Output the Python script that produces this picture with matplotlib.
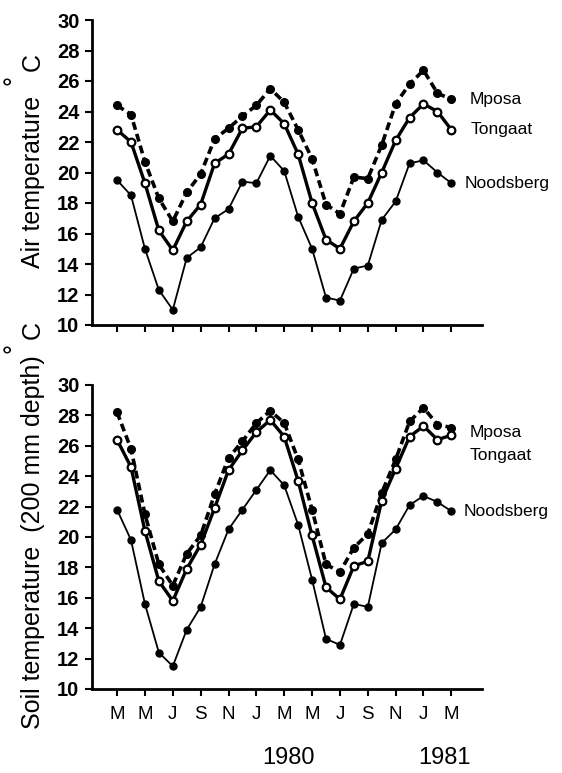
import numpy as np
import matplotlib.pyplot as plt

plt.rcParams['font.family'] = ['Liberation Sans', 'DejaVu Sans']

# monthly values, March 1979 .. March 1981
months = np.arange(25)
tick_pos = np.arange(0, 25, 2)
tick_labels = ['M', 'M', 'J', 'S', 'N', 'J', 'M', 'M', 'J', 'S', 'N', 'J', 'M']

air_mposa = [24.4, 23.8, 20.7, 18.3, 16.8, 18.7, 19.9, 22.2, 22.9, 23.7, 24.4, 25.5,
             24.6, 22.8, 20.9, 17.9, 17.3, 19.7, 19.6, 21.8, 24.5, 25.8, 26.7, 25.2, 24.8]
air_tongaat = [22.8, 22.0, 19.3, 16.2, 14.9, 16.8, 17.9, 20.6, 21.2, 22.9, 23.0, 24.1,
               23.2, 21.2, 18.0, 15.6, 15.0, 16.8, 18.0, 20.0, 22.1, 23.6, 24.5, 24.0, 22.8]
air_noodsberg = [19.5, 18.5, 15.0, 12.3, 11.0, 14.4, 15.1, 17.0, 17.6, 19.4, 19.3, 21.1,
                 20.1, 17.1, 15.0, 11.8, 11.6, 13.7, 13.9, 16.9, 18.1, 20.6, 20.8, 20.0, 19.3]

soil_mposa = [28.2, 25.8, 21.5, 18.2, 16.8, 18.9, 20.1, 22.8, 25.2, 26.3, 27.5, 28.3,
              27.5, 25.1, 21.8, 18.2, 17.7, 19.3, 20.2, 22.9, 25.1, 27.6, 28.5, 27.4, 27.2]
soil_tongaat = [26.4, 24.6, 20.4, 17.1, 15.8, 17.9, 19.5, 21.9, 24.4, 25.7, 26.9, 27.7,
                26.6, 23.7, 20.1, 16.7, 15.9, 18.1, 18.4, 22.4, 24.5, 26.6, 27.3, 26.4, 26.7]
soil_noodsberg = [21.8, 19.8, 15.6, 12.4, 11.5, 13.9, 15.4, 18.2, 20.5, 21.8, 23.1, 24.4,
                  23.4, 20.8, 17.2, 13.3, 12.9, 15.6, 15.4, 19.6, 20.5, 22.1, 22.7, 22.3, 21.7]

W, H = 562, 773
fig = plt.figure(figsize=(W / 100, H / 100), dpi=100)


def px(x, y):
    return x / W, 1 - y / H


def make_axes(top, bottom):
    l, b = px(92, bottom)
    ax = fig.add_axes([l, b, (482 - 92) / W, (bottom - top) / H])
    for side in ['top', 'right']:
        ax.spines[side].set_visible(False)
    for side in ['left', 'bottom']:
        ax.spines[side].set_linewidth(2)
    ax.set_xlim(-1.8, 26.2)
    ax.set_ylim(10, 30)
    ax.set_yticks(np.arange(10, 31, 2))
    ax.set_xticks(tick_pos)
    ax.tick_params(axis='y', length=5, width=1.5, pad=4, labelsize=14.5)
    ax.tick_params(axis='x', length=5, width=1.5, pad=7, labelsize=13.5)
    for lab in ax.get_yticklabels():
        lab.set_fontweight('bold')
    return ax


def draw(ax, mposa, tongaat, noodsberg, offsets):
    ax.plot(months, mposa, color='black', lw=2.6, ls=(0, (2.2, 1.2)), marker='o',
            ms=5.5, mfc='black', mec='black', clip_on=False)
    ax.plot(months, tongaat, color='black', lw=2.4, marker='o', ms=5.5,
            mfc='white', mec='black', mew=1.6, clip_on=False, zorder=3)
    ax.plot(months, noodsberg, color='black', lw=1.3, marker='o', ms=5,
            mfc='black', mec='black', clip_on=False)
    names = ['Mposa', 'Tongaat', 'Noodsberg']
    for name, series, (dx, dy) in zip(names, [mposa, tongaat, noodsberg], offsets):
        ax.annotate(name, (months[-1], series[-1]), xytext=(dx, dy),
                    textcoords='offset pixels', ha='left', va='center', fontsize=12.5)


ax1 = make_axes(20, 325)
draw(ax1, air_mposa, air_tongaat, air_noodsberg, [(18, 0), (19, 0), (13, 0)])
ax1.set_xticklabels([])

ax2 = make_axes(385, 689)
draw(ax2, soil_mposa, soil_tongaat, soil_noodsberg, [(18, -5), (18, -20), (12, 0)])
ax2.set_xticklabels(tick_labels)

# year labels
ax2.text(12.3, -0.227, '1980', transform=ax2.get_xaxis_transform(),
         ha='center', va='center', fontsize=17)
ax2.text(23.5, -0.227, '1981', transform=ax2.get_xaxis_transform(),
         ha='center', va='center', fontsize=17)

# y axis labels
fig.text(*px(33, 182), 'Air temperature', rotation=90, ha='center', va='center', fontsize=18)
fig.text(*px(33, 62), 'C', rotation=90, ha='center', va='center', fontsize=18)
fig.text(*px(14, 80), '°', rotation=90, ha='center', va='center', fontsize=18)
fig.text(*px(33, 542), 'Soil temperature  (200 mm depth)', rotation=90,
         ha='center', va='center', fontsize=18)
fig.text(*px(33, 330), 'C', rotation=90, ha='center', va='center', fontsize=18)
fig.text(*px(14, 348), '°', rotation=90, ha='center', va='center', fontsize=18)

fig.savefig('out.png', dpi=100)
